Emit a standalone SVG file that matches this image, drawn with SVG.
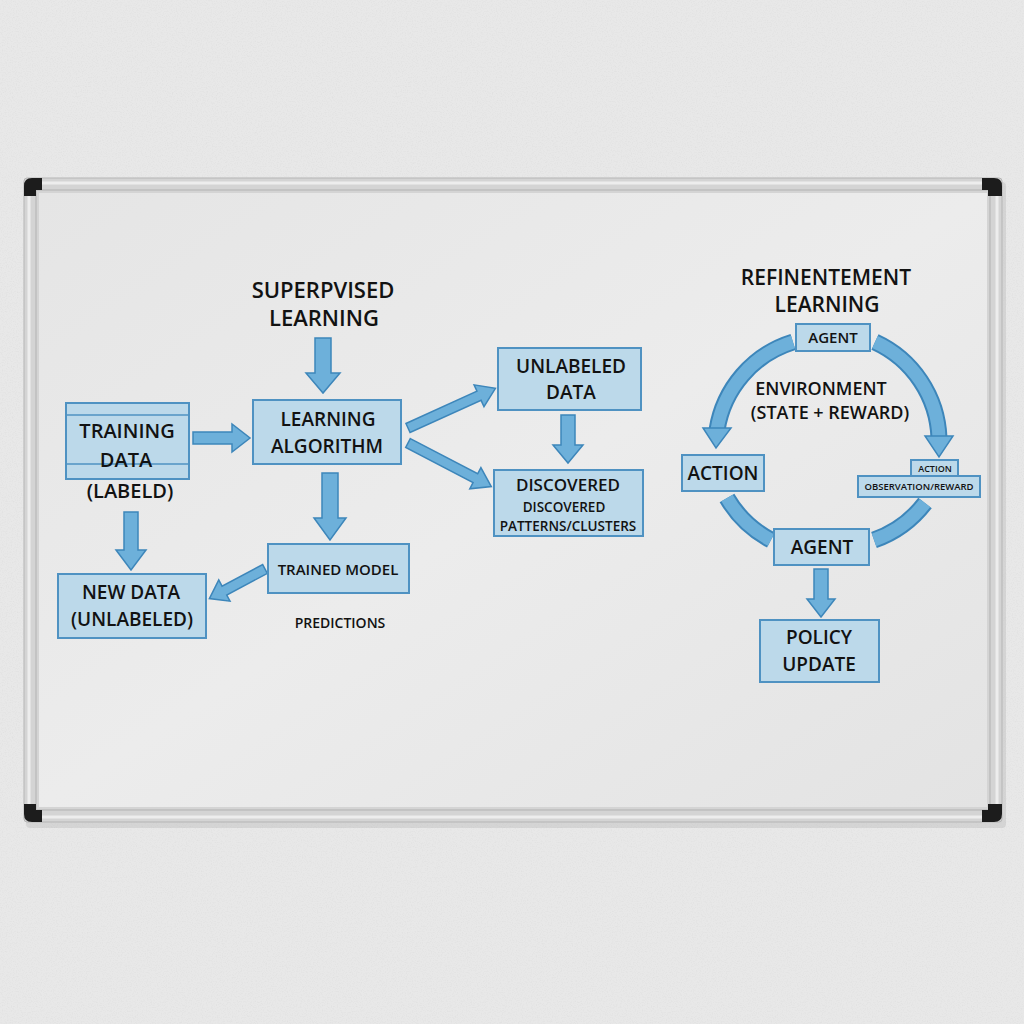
<svg xmlns="http://www.w3.org/2000/svg" width="1024" height="1024" viewBox="0 0 1024 1024">
<defs>
<filter id="wallTex" x="0" y="0" width="100%" height="100%">
<feTurbulence type="fractalNoise" baseFrequency="0.8" numOctaves="2" seed="3" result="n"/>
<feColorMatrix in="n" type="matrix" values="0 0 0 0 0.6  0 0 0 0 0.6  0 0 0 0 0.6  0 0 0 -2.2 1.2"/>
</filter>
<linearGradient id="surf" x1="0" y1="0" x2="1" y2="1">
<stop offset="0" stop-color="#e5e5e5"/>
<stop offset="0.5" stop-color="#ececec"/>
<stop offset="1" stop-color="#e3e3e3"/>
</linearGradient>
<style>
.box{fill:#bcd9ea;stroke:#4f92c2;stroke-width:2}
.arr{fill:#6db0da;stroke:#3d86ba;stroke-width:1.5;stroke-linejoin:miter}
.bandO{fill:none;stroke:#3d86ba;stroke-width:17}
.bandI{fill:none;stroke:#6db0da;stroke-width:13}
text{font-family:"Open Sans","Noto Sans","Liberation Sans",sans-serif;font-weight:600;fill:#121212;text-anchor:middle}
.cap{fill:#1c1c1c}
</style>
</defs>
<!-- wall -->
<rect x="0" y="0" width="1024" height="1024" fill="#e8e8e8"/>
<rect x="0" y="0" width="1024" height="1024" filter="url(#wallTex)" opacity="0.25"/>
<!-- board shadow -->
<rect x="26" y="182" width="980" height="646" rx="4" fill="#000" opacity="0.08"/>
<!-- frame -->
<rect x="24" y="178" width="978" height="644" rx="3" fill="#d4d4d4" stroke="#b5b5b5" stroke-width="1"/>
<rect x="29" y="183" width="968" height="634" fill="none" stroke="#ededed" stroke-width="3"/>
<rect x="36" y="190" width="954" height="620" fill="none" stroke="#bdbdbd" stroke-width="1.5"/>
<rect x="39" y="193" width="948" height="614" fill="url(#surf)"/>
<!-- corner caps -->
<path class="cap" d="M24,196 L24,186 Q24,178 32,178 L42,178 L42,190 L36,190 L36,196 Z"/>
<path class="cap" d="M1002,196 L1002,186 Q1002,178 994,178 L982,178 L982,190 L988,190 L988,196 Z"/>
<path class="cap" d="M24,804 L24,814 Q24,822 32,822 L42,822 L42,810 L36,810 L36,804 Z"/>
<path class="cap" d="M1002,804 L1002,814 Q1002,822 994,822 L982,822 L982,810 L988,810 L988,804 Z"/>

<g id="connectors">
<polygon class="arr" points="315,338 331,338 331,373 340,373 323,393 306,373 315,373"/>
<polygon class="arr" points="193,432 232,432 232,424 250,438 232,452 232,444 193,444"/>
<polygon class="arr" points="322,473 338,473 338,518 346,518 330,540 314,518 322,518"/>
<polygon class="arr" points="124,512 138,512 138,550 146,550 131,570 116,550 124,550"/>
<polygon class="arr" points="561,415 575,415 575,445 583,445 568,463 553,445 561,445"/>
<polygon class="arr" points="0,-5 78,-5 78,-12 96,0 78,12 78,5 0,5" transform="translate(408,428) rotate(-24.4)"/>
<polygon class="arr" points="0,-5 76,-5 76,-12 94,0 76,12 76,5 0,5" transform="translate(408,443) rotate(27.6)"/>
<polygon class="arr" points="0,-5 46,-5 46,-12 63,0 46,12 46,5 0,5" transform="translate(265,569) rotate(152)"/>
<polygon class="arr" points="814,569 828,569 828,599 835,599 821,617 807,599 814,599"/>
<!-- RL cycle bands -->
<path class="bandO" d="M793,342 A110,110 0 0 0 717,430"/>
<path class="bandI" d="M793,342 A110,110 0 0 0 717,430"/>
<polygon class="arr" points="703,428 731,428 716,448"/>
<path class="bandO" d="M875,342 A110,110 0 0 1 939,438"/>
<path class="bandI" d="M875,342 A110,110 0 0 1 939,438"/>
<polygon class="arr" points="925,436 953,436 939,457"/>
<path class="bandO" d="M727,498 A110,110 0 0 0 771,540"/>
<path class="bandI" d="M727,498 A110,110 0 0 0 771,540"/>
<path class="bandO" d="M925,503 A110,110 0 0 1 874,540"/>
<path class="bandI" d="M925,503 A110,110 0 0 1 874,540"/>
</g>

<g id="title-supervised">
<text x="323" y="298" font-size="22">SUPERPVISED</text>
<text x="324" y="326" font-size="22">LEARNING</text>
</g>
<g id="training-data">
<rect class="box" x="66" y="403" width="123" height="76"/>
<line x1="66" y1="415" x2="189" y2="415" stroke="#4f92c2" stroke-width="1.5"/>
<line x1="66" y1="464" x2="189" y2="464" stroke="#4f92c2" stroke-width="1.5"/>
<text x="127" y="438" font-size="20">TRAINING</text>
<text x="126" y="467" font-size="20">DATA</text>
<text x="130" y="498" font-size="20">(LABELD)</text>
</g>
<g id="learning-algorithm">
<rect class="box" x="253" y="400" width="148" height="64"/>
<text x="328" y="426" font-size="19">LEARNING</text>
<text x="327" y="453" font-size="19">ALGORITHM</text>
</g>
<g id="unlabeled-data">
<rect class="box" x="498" y="348" width="143" height="62"/>
<text x="571" y="373" font-size="19">UNLABELED</text>
<text x="571" y="399" font-size="19">DATA</text>
</g>
<g id="discovered">
<rect class="box" x="494" y="470" width="149" height="66"/>
<text x="568" y="491" font-size="17">DISCOVERED</text>
<text x="564" y="512" font-size="13.5">DISCOVERED</text>
<text x="568" y="531" font-size="13.5">PATTERNS/CLUSTERS</text>
</g>
<g id="trained-model">
<rect class="box" x="268" y="544" width="141" height="49"/>
<text x="338" y="575" font-size="15">TRAINED MODEL</text>
</g>
<g id="new-data">
<rect class="box" x="58" y="574" width="148" height="64"/>
<text x="131" y="599" font-size="19">NEW DATA</text>
<text x="132" y="626" font-size="19">(UNLABELED)</text>
</g>
<g id="predictions">
<text x="340" y="628" font-size="14">PREDICTIONS</text>
</g>

<g id="title-reinforcement">
<text x="826" y="285" font-size="21">REFINENTEMENT</text>
<text x="827" y="312" font-size="21">LEARNING</text>
</g>
<g id="agent-top">
<rect class="box" x="796" y="324" width="74" height="27"/>
<text x="833" y="343" font-size="15">AGENT</text>
</g>
<g id="environment">
<text x="821" y="395" font-size="18">ENVIRONMENT</text>
<text x="830" y="419" font-size="18">(STATE + REWARD)</text>
</g>
<g id="action">
<rect class="box" x="682" y="455" width="82" height="36"/>
<text x="723" y="480" font-size="19">ACTION</text>
</g>
<g id="action-observation">
<rect class="box" x="911" y="460" width="47" height="16" stroke-width="1.5"/>
<text x="935" y="472" font-size="9">ACTION</text>
<rect class="box" x="858" y="476" width="122" height="21" stroke-width="1.5"/>
<text x="919" y="490" font-size="9.5">OBSERVATION/REWARD</text>
</g>
<g id="agent-bottom">
<rect class="box" x="774" y="529" width="95" height="36"/>
<text x="822" y="554" font-size="19">AGENT</text>
</g>
<g id="policy-update">
<rect class="box" x="760" y="620" width="119" height="62"/>
<text x="819" y="644" font-size="19">POLICY</text>
<text x="819" y="671" font-size="19">UPDATE</text>
</g>
</svg>
